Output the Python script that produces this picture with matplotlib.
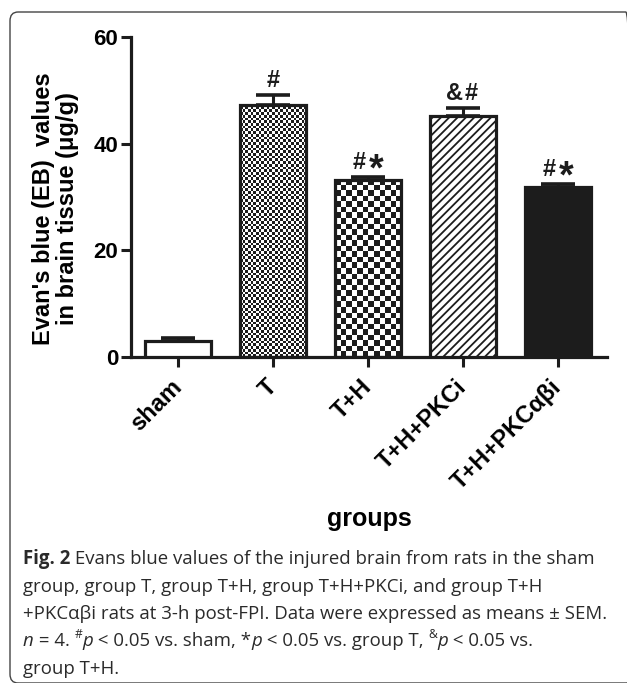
import numpy as np
import matplotlib
matplotlib.use("Agg")
import matplotlib.pyplot as plt
from matplotlib.colors import ListedColormap
from matplotlib.patches import FancyBboxPatch

groups = ["sham", "T", "T+H", "T+H+PKCi", "T+H+PKCαβi"]
eb_values = [3.0, 47.3, 33.2, 45.1, 31.8]
eb_sem = [0.6, 1.9, 0.6, 1.6, 0.7]
marks = ["", "#", "#*", "&#", "#*"]

# caption lines as (text, style) pieces; style: b = bold, i = italic, s = superscript
caption = [
    [("Fig. 2", "b"), (" Evans blue values of the injured brain from rats in the sham", "")],
    [("group, group T, group T+H, group T+H+PKCi, and group T+H", "")],
    [("+PKCαβi rats at 3-h post-FPI. Data were expressed as means ± SEM.", "")],
    [("n", "i"), (" = 4. ", ""), ("#", "s"), ("p", "i"), (" < 0.05 vs. sham, *", ""),
     ("p", "i"), (" < 0.05 vs. group T, ", ""), ("&", "s"), ("p", "i"), (" < 0.05 vs.", "")],
    [("group T+H.", "")],
]

INK = "#1c1c1c"
W, H = 627, 683

plt.rcParams["font.family"] = ["Liberation Sans", "DejaVu Sans"]
plt.rcParams["hatch.linewidth"] = 1.3

fig = plt.figure(figsize=(W / 100, H / 100), dpi=100)
ax = fig.add_axes([131 / W, 1 - 357 / H, (607 - 131) / W, 320 / H])

x = np.arange(len(groups))
ax.set_xlim(-0.495, 4.515)
ax.set_ylim(0, 60)

faces = ["white", "none", "none", "white", INK]
hatches = [None, None, None, "////", None]
bars = ax.bar(x, eb_values, width=0.7, color=faces, edgecolor=INK,
              linewidth=2.3, hatch=hatches, zorder=3)

# checkerboard fills for bars T and T+H
checker = ListedColormap(["white", INK])
for bar, cell in [(bars[1], 2.7), (bars[2], 5.5)]:
    x0, y0 = bar.get_x(), bar.get_y()
    w, h = bar.get_width(), bar.get_height()
    p0 = ax.transData.transform((x0, y0))
    p1 = ax.transData.transform((x0 + w, y0 + h))
    nx = int(round((p1[0] - p0[0]) / cell))
    ny = int(round((p1[1] - p0[1]) / cell))
    yy, xx = np.indices((ny, nx))
    im = ax.imshow((xx + yy) % 2, cmap=checker, extent=(x0, x0 + w, y0, y0 + h),
                   aspect="auto", interpolation="nearest", origin="lower", zorder=2)
    im.set_clip_path(bar)
ax.set_xlim(-0.495, 4.515)
ax.set_ylim(0, 60)

ax.errorbar(x, eb_values, yerr=[np.zeros(len(x)), eb_sem], fmt="none",
            ecolor=INK, elinewidth=2.2, capsize=12.5, capthick=2.6, zorder=4)

# significance marks, one glyph at a time so the star can be drawn larger
for xi, v, s, m in zip(x, eb_values, eb_sem, marks):
    n = len(m)
    for k, ch in enumerate(m):
        dx = (k - (n - 1) / 2) * 17
        if ch == "*":
            size, dy = 27, -4
        else:
            size, dy = 17, 8
        ax.annotate(ch, xy=(xi, v + s), xytext=(dx, dy), textcoords="offset pixels",
                    ha="center", va="baseline", fontsize=size, fontweight="bold",
                    color=INK)

for side in ["top", "right"]:
    ax.spines[side].set_visible(False)
for side in ["left", "bottom"]:
    ax.spines[side].set_linewidth(2.3)
    ax.spines[side].set_color(INK)

ax.set_yticks([0, 20, 40, 60])
ax.set_xticks(x)
ax.tick_params(axis="both", length=7.2, width=2.2, color=INK)
ax.tick_params(axis="y", pad=2, labelsize=16)
for lab in ax.get_yticklabels():
    lab.set_fontweight("bold")
ax.set_xticklabels(groups, rotation=45, ha="right", va="center",
                   rotation_mode="anchor", fontsize=17, fontweight="bold")
ax.tick_params(axis="x", pad=12)

ax.set_ylabel("Evan's blue (EB)  values\nin brain tissue (μg/g)", fontsize=17,
              fontweight="bold", linespacing=1.05)
ax.yaxis.set_label_coords(-0.109, 0.4625)
ax.set_xlabel("groups", fontsize=18, fontweight="bold")
ax.xaxis.set_label_coords(0.5, -0.505)
ax.xaxis.label.set_va("center")

# caption frame and text
frame = FancyBboxPatch((10 / W, 0), (634 - 10) / W, (H - 12) / H,
                       boxstyle="round,pad=0,rounding_size=0.013",
                       transform=fig.transFigure, facecolor="none",
                       edgecolor="#444444", linewidth=1.0)
fig.patches.append(frame)

renderer = fig.canvas.get_renderer()
cap_size = 13.4
for i, pieces in enumerate(caption):
    xpx = 23
    ypx = H - (564 + 27.5 * i)
    for text, style in pieces:
        kw = dict(family="Open Sans", color="#2a2a2a", ha="left", va="baseline",
                  fontsize=cap_size)
        dy = 0
        if style == "b":
            kw["fontweight"] = "bold"
        elif style == "i":
            kw["style"] = "italic"
        elif style == "s":
            kw["fontsize"] = cap_size * 0.65
            dy = 8
        t = fig.text(xpx / W, (ypx + dy) / H, text, **kw)
        bb = t.get_window_extent(renderer)
        xpx += bb.width

fig.savefig("out.png", dpi=100)
